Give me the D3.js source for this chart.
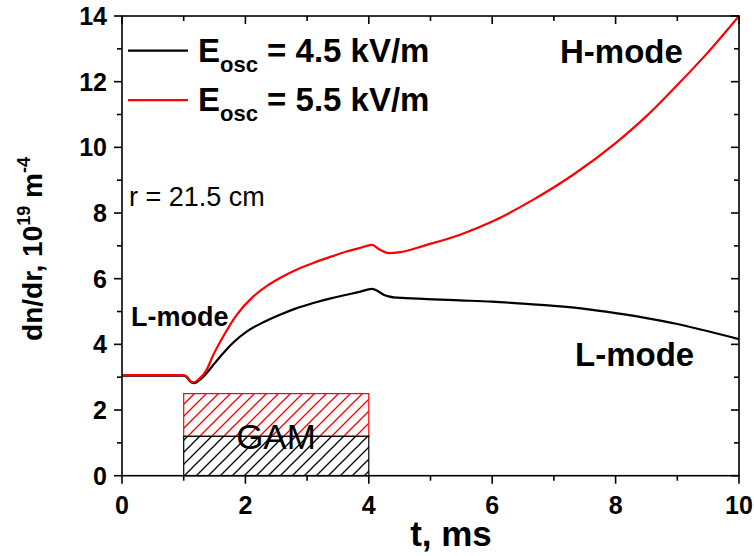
<!DOCTYPE html>
<html>
<head>
<meta charset="utf-8">
<script src="https://cdn.jsdelivr.net/npm/d3@7"></script>
<style>
  body { margin: 0; background: #fff; }
  svg text { font-family: "Liberation Sans", Arial, sans-serif; }
</style>
</head>
<body>
<script>
// data
var tBlack = [0, 1.0, 1.05, 1.1, 1.17, 1.25, 1.37, 1.5, 1.64, 1.8, 2.02, 2.3, 2.56, 2.8, 3.1, 3.4, 3.64, 3.85, 4.05, 4.15, 4.24, 4.32, 4.4, 4.6, 4.94, 5.48, 6.0, 6.5, 7.0, 7.5, 8.0, 8.5, 9.0, 9.5, 10];
var gradBlack = [3.05, 3.05, 3.0, 2.88, 2.82, 2.9, 3.12, 3.42, 3.73, 4.05, 4.39, 4.68, 4.90, 5.08, 5.26, 5.41, 5.51, 5.6, 5.69, 5.62, 5.51, 5.46, 5.43, 5.41, 5.38, 5.34, 5.30, 5.24, 5.17, 5.08, 4.95, 4.80, 4.62, 4.40, 4.16];
var tRed = [0, 1.0, 1.05, 1.1, 1.15, 1.25, 1.37, 1.48, 1.64, 1.86, 2.13, 2.35, 2.56, 2.8, 3.1, 3.4, 3.64, 3.85, 4.05, 4.18, 4.32, 4.51, 4.94, 5.48, 6.0, 6.66, 7.3, 8.0, 8.5, 8.98, 9.5, 10];
var gradRed = [3.06, 3.06, 3.02, 2.9, 2.84, 2.95, 3.22, 3.68, 4.24, 4.90, 5.46, 5.78, 6.02, 6.25, 6.48, 6.68, 6.83, 6.93, 7.03, 6.88, 6.78, 6.81, 7.03, 7.34, 7.74, 8.40, 9.15, 10.13, 10.95, 11.86, 12.9, 14.0];

// GAM interval and heights of the hatched boxes
var gamT = [1, 4];
var gamBlack = [0, 1.2];
var gamRed = [1.2, 2.5];

var legendLabels = ["4.5 kV/m", "5.5 kV/m"];
var xTicks = [0, 2, 4, 6, 8, 10];
var yTicks = [0, 2, 4, 6, 8, 10, 12, 14];

var W = 754, H = 556;
var svg = d3.select("body").append("svg").attr("width", W).attr("height", H);

var x = d3.scaleLinear().domain([0, 10]).range([122, 739]);
var y = d3.scaleLinear().domain([0, 14]).range([475.7, 16]);

// hatch patterns
var defs = svg.append("defs");
function hatch(id, col) {
  var p = defs.append("pattern").attr("id", id)
    .attr("patternUnits", "userSpaceOnUse")
    .attr("width", 12).attr("height", 12);
  p.append("path")
    .attr("d", "M0,12 L12,0 M-3,3 L3,-3 M9,15 L15,9")
    .attr("stroke", col).attr("stroke-width", 1.3).attr("fill", "none");
}
hatch("hatchBlack", "#000000");
hatch("hatchRed", "#ff0000");

defs.append("clipPath").attr("id", "plotClip").append("rect")
  .attr("x", x(0)).attr("y", y(14)).attr("width", x(10) - x(0)).attr("height", y(0) - y(14));

// GAM boxes
svg.append("rect")
  .attr("x", x(gamT[0])).attr("width", x(gamT[1]) - x(gamT[0]))
  .attr("y", y(gamRed[1])).attr("height", y(gamRed[0]) - y(gamRed[1]))
  .attr("fill", "url(#hatchRed)").attr("stroke", "#ff0000").attr("stroke-width", 1.2);
svg.append("rect")
  .attr("x", x(gamT[0])).attr("width", x(gamT[1]) - x(gamT[0]))
  .attr("y", y(gamBlack[1])).attr("height", y(gamBlack[0]) - y(gamBlack[1]))
  .attr("fill", "url(#hatchBlack)").attr("stroke", "#000").attr("stroke-width", 1.2);

svg.append("text").attr("x", 276).attr("y", 448.5)
  .attr("text-anchor", "middle").style("font-size", "35px").text("GAM");

// curves
var line = d3.line()
  .x(function(d) { return x(d[0]); })
  .y(function(d) { return y(d[1]); })
  .curve(d3.curveMonotoneX);

svg.append("path")
  .datum(d3.zip(tBlack, gradBlack))
  .attr("d", line).attr("fill", "none").attr("stroke", "#000").attr("stroke-width", 2.2)
  .attr("clip-path", "url(#plotClip)");
svg.append("path")
  .datum(d3.zip(tRed, gradRed))
  .attr("d", line).attr("fill", "none").attr("stroke", "#ff0000").attr("stroke-width", 2.2)
  .attr("clip-path", "url(#plotClip)");

// axes: left/bottom ticks point out, top/right ticks point in
var minorX = d3.range(1, 10, 2), minorY = d3.range(1, 14, 2);
var ax = svg.append("g").attr("stroke", "#000").attr("stroke-width", 1.6);
ax.append("rect").attr("x", x(0)).attr("y", y(14))
  .attr("width", x(10) - x(0)).attr("height", y(0) - y(14)).attr("fill", "none");

function tickSet(vals, len, horiz) {
  vals.forEach(function(v) {
    if (horiz) {
      ax.append("line").attr("x1", x(v)).attr("x2", x(v)).attr("y1", y(0)).attr("y2", y(0) + len);
      ax.append("line").attr("x1", x(v)).attr("x2", x(v)).attr("y1", y(14)).attr("y2", y(14) + len);
    } else {
      ax.append("line").attr("y1", y(v)).attr("y2", y(v)).attr("x1", x(0)).attr("x2", x(0) - len);
      ax.append("line").attr("y1", y(v)).attr("y2", y(v)).attr("x1", x(10)).attr("x2", x(10) - len);
    }
  });
}
tickSet(xTicks, 8, true);
tickSet(minorX, 5, true);
tickSet(yTicks, 8, false);
tickSet(minorY, 5, false);

svg.selectAll(".xl").data(xTicks).enter().append("text")
  .attr("x", function(d) { return x(d); }).attr("y", 514)
  .attr("text-anchor", "middle").style("font-size", "25px").style("font-weight", "bold")
  .text(function(d) { return d; });
svg.selectAll(".yl").data(yTicks).enter().append("text")
  .attr("x", 107).attr("y", function(d) { return y(d); }).attr("dy", "0.36em")
  .attr("text-anchor", "end").style("font-size", "25px").style("font-weight", "bold")
  .text(function(d) { return d; });

// axis titles
svg.append("text").attr("x", 451).attr("y", 546).attr("text-anchor", "middle")
  .style("font-size", "35px").style("font-weight", "bold").text("t, ms");

var yt = svg.append("text").attr("transform", "translate(42,249) rotate(-90)")
  .attr("text-anchor", "middle").style("font-size", "28px").style("font-weight", "bold");
yt.append("tspan").text("dn/dr, 10");
yt.append("tspan").attr("dy", -12).style("font-size", "18px").text("19");
yt.append("tspan").attr("dy", 12).text(" m");
yt.append("tspan").attr("dy", -12).style("font-size", "18px").text("-4");

// legend
var lg = svg.selectAll(".lg").data(legendLabels).enter().append("g")
  .attr("transform", function(d, i) { return "translate(0," + (i * 49.5) + ")"; });
lg.append("line").attr("x1", 128).attr("x2", 188).attr("y1", 50.7).attr("y2", 50.7)
  .attr("stroke", function(d, i) { return i ? "#ff0000" : "#000"; }).attr("stroke-width", 2.2);
var lt = lg.append("text").attr("x", 198).attr("y", 61.7)
  .style("font-size", "33px").style("font-weight", "bold");
lt.append("tspan").text("E");
lt.append("tspan").attr("dy", 10).style("font-size", "22px").text("osc");
lt.append("tspan").attr("dy", -10).text(function(d) { return " = " + d; });

// annotations
svg.append("text").attr("x", 560).attr("y", 63).style("font-size", "33px").style("font-weight", "bold").text("H-mode");
svg.append("text").attr("x", 575).attr("y", 365.7).style("font-size", "33px").style("font-weight", "bold").text("L-mode");
svg.append("text").attr("x", 131).attr("y", 326).style("font-size", "27px").style("font-weight", "bold").text("L-mode");
svg.append("text").attr("x", 129).attr("y", 206).style("font-size", "27px").text("r = 21.5 cm");
</script>
</body>
</html>
